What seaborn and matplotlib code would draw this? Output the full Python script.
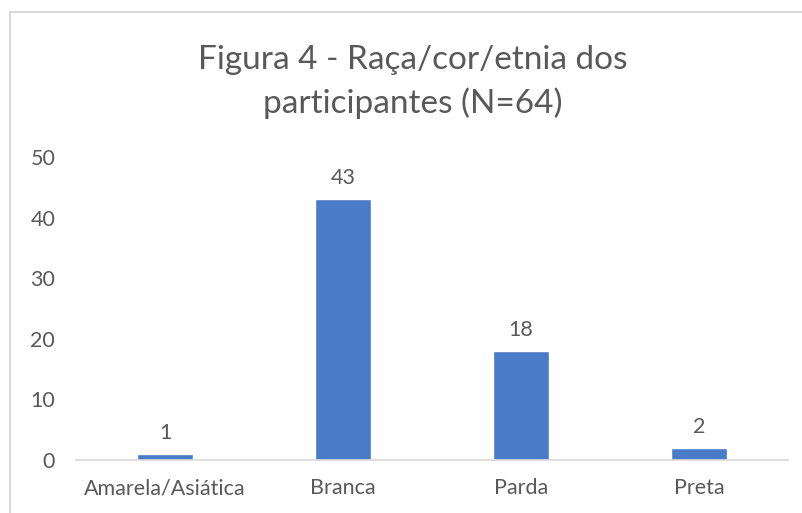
import pandas as pd
import matplotlib.pyplot as plt
import seaborn as sns
from matplotlib.patches import Rectangle

# Dados da figura
categorias = ['Amarela/Asiática', 'Branca', 'Parda', 'Preta']
valores = [1, 43, 18, 2]
y_ticks = [0, 10, 20, 30, 40, 50]

df = pd.DataFrame({'Raça': categorias, 'N': valores})

sns.set_style('white')
plt.rcParams['font.family'] = ['Lato', 'DejaVu Sans']

fig = plt.figure(figsize=(8.02, 5.13), dpi=100)
ax = fig.add_axes([76 / 802, 1 - 460 / 513, 712 / 802, 303 / 513])

sns.barplot(data=df, x='Raça', y='N', color='#4a7bc8', saturation=1,
            width=0.315, ax=ax)

for i, v in enumerate(valores):
    ax.annotate(str(v), (i, v), xytext=(0, 8), textcoords='offset points',
                ha='center', va='bottom', fontsize=15.5, color='#595959')

ax.set_ylim(0, 50)
ax.set_xlim(-0.5, 3.5)
ax.set_yticks(y_ticks)
ax.set_xlabel('')
ax.set_ylabel('')
ax.tick_params(axis='both', labelsize=15.5, labelcolor='#595959', length=0)
ax.tick_params(axis='y', pad=15)
ax.tick_params(axis='x', pad=13)
for s in ['top', 'right', 'left']:
    ax.spines[s].set_visible(False)
ax.spines['bottom'].set_color('#d9d9d9')
ax.spines['bottom'].set_linewidth(1.2)

fig.text(413 / 802, 1 - 82 / 513, 'Figura 4 - Raça/cor/etnia dos\nparticipantes (N=64)',
         ha='center', va='center', fontsize=24, color='#595959',
         linespacing=1.45)

# borda da área do gráfico
fig.patches.append(Rectangle((10 / 802, -0.1), 1.0, 1 - 12 / 513 + 0.1,
                             transform=fig.transFigure, fill=False,
                             edgecolor='#d9d9d9', linewidth=1.5))

fig.savefig('out.png', dpi=100)
